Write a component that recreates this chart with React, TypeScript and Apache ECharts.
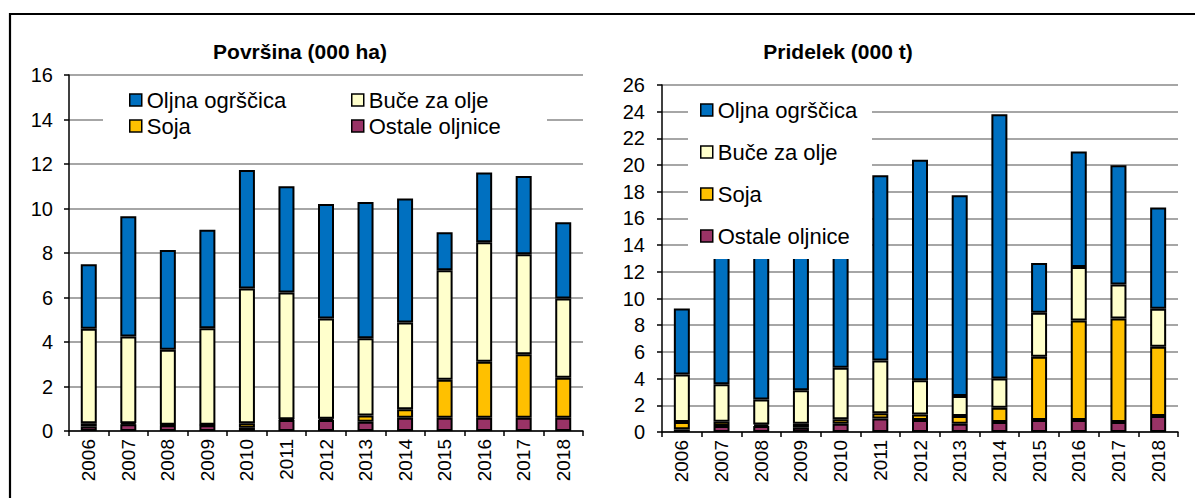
import React, { useEffect, useRef } from "react";
import * as echarts from "echarts";

const years = ["2006", "2007", "2008", "2009", "2010", "2011", "2012", "2013", "2014", "2015", "2016", "2017", "2018"];

const seriesNames = ["Oljna ogrščica", "Buče za olje", "Soja", "Ostale oljnice"];

// Površina (000 ha)
const areaOstale = [0.2, 0.3, 0.26, 0.26, 0.15, 0.5, 0.5, 0.42, 0.6, 0.6, 0.6, 0.6, 0.6];
const areaSoja = [0.15, 0.05, 0.02, 0.02, 0.2, 0.03, 0.05, 0.28, 0.38, 1.7, 2.51, 2.85, 1.79];
const areaBuce = [4.25, 3.9, 3.37, 4.34, 6.06, 5.7, 4.51, 3.47, 3.9, 4.92, 5.37, 4.49, 3.57];
const areaOljna = [2.9, 5.4, 4.49, 4.42, 5.32, 4.77, 5.14, 6.12, 5.57, 1.71, 3.14, 3.52, 3.42];

// Pridelek (000 t)
const prodOstale = [0.2, 0.45, 0.45, 0.32, 0.62, 1.02, 0.9, 0.62, 0.75, 0.9, 0.9, 0.75, 1.2];
const prodSoja = [0.55, 0.32, 0.12, 0.3, 0.33, 0.38, 0.42, 0.58, 1.07, 4.74, 7.45, 7.75, 5.18];
const prodBuce = [3.56, 2.8, 1.87, 2.5, 3.86, 3.96, 2.55, 1.49, 2.19, 3.29, 4.02, 2.55, 2.85];
const prodOljna = [4.94, 13.93, 16.56, 14.88, 11.69, 13.87, 16.53, 15.04, 19.79, 3.74, 8.65, 8.93, 7.6];

const colors: Record<string, string> = {
  "Oljna ogrščica": "#0070C0",
  "Buče za olje": "#FFFFCC",
  "Soja": "#FFC000",
  "Ostale oljnice": "#993366",
};

const FONT = 'Arial, "Liberation Sans", sans-serif';

export default function App() {
  const ref = useRef<HTMLDivElement>(null);

  useEffect(() => {
    if (!ref.current) return;
    const chart = echarts.init(ref.current, undefined, { renderer: "svg" });

    const xAxisBase = (gridIndex: number) => ({
      type: "category" as const,
      gridIndex,
      data: years,
      boundaryGap: true,
      axisLine: { show: true, lineStyle: { color: "#000", width: 1.5 } },
      axisTick: { show: true, length: 5, lineStyle: { color: "#000", width: 1.5 } },
      axisLabel: { rotate: 90, color: "#000", fontSize: 19, fontFamily: FONT, margin: 8, interval: 0 },
      splitLine: { show: false },
    });

    const yAxisBase = (gridIndex: number, max: number, margin: number) => ({
      type: "value" as const,
      gridIndex,
      min: 0,
      max,
      interval: 2,
      axisLine: { show: true, lineStyle: { color: "#000", width: 1.5 } },
      axisTick: { show: true, length: 5, lineStyle: { color: "#000", width: 1.5 } },
      axisLabel: { color: "#000", fontSize: 20, fontFamily: FONT, margin },
      splitLine: { show: true, lineStyle: { color: "#888", width: 1.6 } },
    });

    const mk = (name: string, data: number[], idx: number) => ({
      name,
      type: "bar" as const,
      stack: "s" + idx,
      xAxisIndex: idx,
      yAxisIndex: idx,
      data,
      barWidth: 16,
      itemStyle: { color: colors[name], borderColor: "#000", borderWidth: 2 },
    });

    const legendItem = (name: string, left: number, top: number) => ({
      data: [name],
      left,
      top,
      orient: "horizontal" as const,
      padding: 0,
      icon: "rect",
      itemWidth: 12,
      itemHeight: 12,
      selectedMode: false,
      itemStyle: { borderColor: "#000", borderWidth: 1.5 },
      textStyle: { color: "#000", fontSize: 22, fontFamily: FONT },
    });

    chart.setOption({
      animation: false,
      backgroundColor: "#fff",
      title: [
        {
          text: "Površina (000 ha)",
          left: 295,
          top: 36,
          textAlign: "center",
          textStyle: { fontSize: 21, fontWeight: "bold", color: "#000", fontFamily: FONT },
        },
        {
          text: "Pridelek (000 t)",
          left: 833,
          top: 36,
          textAlign: "center",
          textStyle: { fontSize: 21, fontWeight: "bold", color: "#000", fontFamily: FONT },
        },
      ],
      grid: [
        { left: 69, right: 612, top: 75, bottom: 67, containLabel: false },
        { left: 662, right: 17, top: 85, bottom: 66, containLabel: false },
      ],
      xAxis: [xAxisBase(0), xAxisBase(1)],
      yAxis: [yAxisBase(0, 16, 16), yAxisBase(1, 26, 17)],
      legend: [
        legendItem("Oljna ogrščica", 129, 89),
        legendItem("Buče za olje", 351, 89),
        legendItem("Soja", 129, 115),
        legendItem("Ostale oljnice", 351, 115),
        legendItem("Oljna ogrščica", 700, 99),
        legendItem("Buče za olje", 700, 141),
        legendItem("Soja", 700, 183),
        legendItem("Ostale oljnice", 700, 225),
      ],
      graphic: [
        { type: "rect", z: 3, shape: { x: 103, y: 82, width: 444, height: 60 }, style: { fill: "#fff" } },
        { type: "rect", z: 3, shape: { x: 688, y: 94, width: 184, height: 165 }, style: { fill: "#fff" } },
        {
          type: "rect",
          z: 10,
          shape: { x: 10, y: 14, width: 1200, height: 500 },
          style: { fill: "none", stroke: "#000", lineWidth: 2.2 },
        },
      ],
      series: [
        mk("Ostale oljnice", areaOstale, 0),
        mk("Soja", areaSoja, 0),
        mk("Buče za olje", areaBuce, 0),
        mk("Oljna ogrščica", areaOljna, 0),
        mk("Ostale oljnice", prodOstale, 1),
        mk("Soja", prodSoja, 1),
        mk("Buče za olje", prodBuce, 1),
        mk("Oljna ogrščica", prodOljna, 1),
      ],
    });

    return () => chart.dispose();
  }, []);

  return (
    <div
      ref={ref}
      style={{ position: "absolute", left: 0, top: 0, width: 1195, height: 498 }}
    />
  );
}
